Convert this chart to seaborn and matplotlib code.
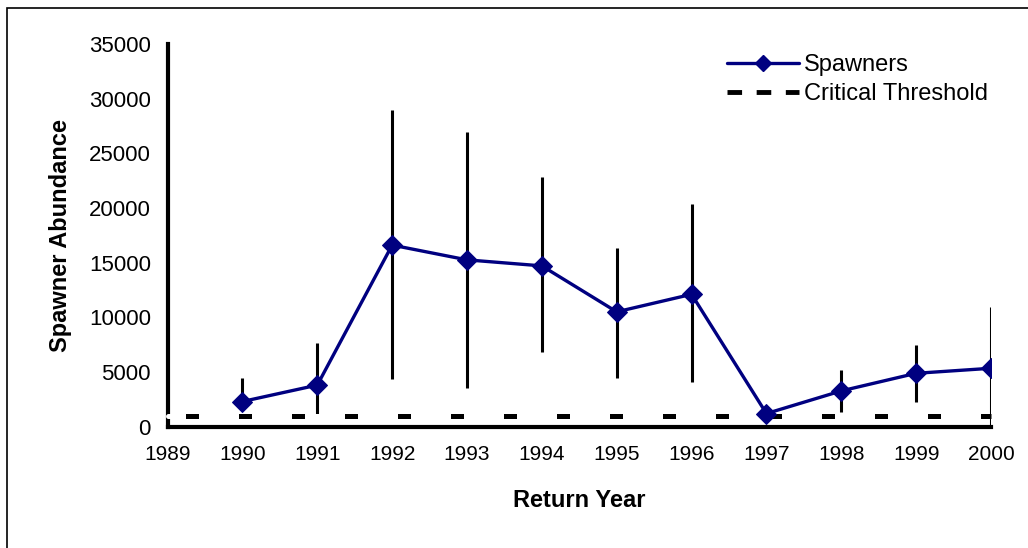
"""Spawner abundance by return year with critical threshold."""
import numpy as np
import pandas as pd
import matplotlib
matplotlib.use("Agg")
import matplotlib.pyplot as plt
import seaborn as sns
from matplotlib.lines import Line2D
from matplotlib.patches import Rectangle

years = [1990, 1991, 1992, 1993, 1994, 1995, 1996, 1997, 1998, 1999, 2000]
spawners = [2300, 3800, 16600, 15250, 14700, 10500, 12100, 1200, 3270, 4880, 5340]
lower = [1500, 1070, 4360, 3540, 6830, 4460, 4040, 1200, 1370, 2290, 0]
upper = [4450, 7650, 28950, 26980, 22870, 16320, 20390, 1200, 5190, 7480, 10950]
threshold = 1000
xticks = list(range(1989, 2001))
yticks = list(range(0, 35001, 5000))

df = pd.DataFrame({"year": years, "spawners": spawners})

sns.set_style("white")
plt.rcParams["font.family"] = ["Liberation Sans", "DejaVu Sans"]
for key in ["text.color", "axes.labelcolor", "xtick.color", "ytick.color"]:
    plt.rcParams[key] = "black"

fig = plt.figure(figsize=(10.28, 5.48), dpi=100)
ax = fig.add_axes([0.163, 0.2214, 0.801, 0.6986])

# outer frame (only top and left visible)
fig.patches.append(Rectangle((7 / 1028, -0.1), 1.2, 1.1 - 8 / 548,
                             transform=fig.transFigure, fill=False,
                             edgecolor="black", linewidth=1.2))

# error bars
ax.vlines(years, lower, upper, color="black", linewidth=2.2, zorder=2)

# threshold line: white under-stroke then black dashes
ax.axhline(threshold, color="white", linewidth=3.6, zorder=3, clip_on=False)
ax.axhline(threshold, color="black", linewidth=3.6,
           linestyle=(7.1, (2.6, 8.0)), zorder=3, clip_on=False)

sns.lineplot(data=df, x="year", y="spawners", ax=ax, color="#000080",
             linewidth=2.4, marker="D", markersize=10, markeredgecolor="#000080",
             zorder=4)

ax.set_xlim(1989, 2000)
ax.set_ylim(0, 35000)
ax.set_xticks(xticks)
ax.set_yticks(yticks)
ax.set_xticklabels([str(x) for x in xticks])
ax.set_yticklabels([str(y) for y in yticks])

for side in ["top", "right"]:
    ax.spines[side].set_visible(False)
for side in ["left", "bottom"]:
    ax.spines[side].set_linewidth(3)
    ax.spines[side].set_color("black")
    ax.spines[side].set_zorder(1)

ax.tick_params(axis="y", direction="out", length=6, width=3, labelsize=16, pad=6)
ax.tick_params(axis="x", direction="inout", length=12, width=3, labelsize=15, pad=7)

ax.set_xlabel("Return Year", fontsize=17, fontweight="bold", labelpad=18)
ax.set_ylabel("Spawner Abundance", fontsize=17, fontweight="bold", labelpad=12)

handles = [
    Line2D([], [], color="#000080", linewidth=2.4, marker="D", markersize=8),
    Line2D([], [], color="black", linewidth=3.5, linestyle=(0, (3, 3))),
]
ax.legend(handles, ["Spawners", "Critical Threshold"], loc="upper left",
          bbox_to_anchor=(718 / 1028, 1 - 45 / 548), bbox_transform=fig.transFigure,
          frameon=False, fontsize=17, handlelength=3.05, handletextpad=0.2,
          labelspacing=0.27, borderaxespad=0)

fig.savefig("out.png", dpi=100)
